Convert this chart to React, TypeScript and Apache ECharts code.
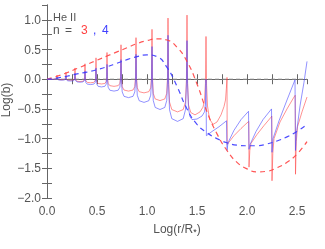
import React, { useEffect, useRef } from "react";
import * as echarts from "echarts";

const xTicks = [0, 0.5, 1.0, 1.5, 2.0, 2.5];
const yTicks = [-2.0, -1.5, -1.0, -0.5, 0.0, 0.5, 1.0];

const zeroLine: [number, number][] = [[0, 0], [2.6, 0]];

const redSolid: [number, number][] = [
  [0, 0], [0.05, 0.0], [0.08, 0.003], [0.092, 0.01], [0.097, 0.03], [0.1, 0.07],
  [0.1027, 0.048], [0.1072, 0.008], [0.118, -0.006], [0.145, -0.01], [0.172, -0.006], [0.1828, 0.008], [0.1873, 0.048], [0.19, 0.12],
  [0.1927, 0.047], [0.1972, 0.001], [0.208, -0.015], [0.235, -0.02], [0.262, -0.015], [0.2728, 0.001], [0.2773, 0.047], [0.28, 0.19],
  [0.283, 0.047], [0.288, -0.013], [0.3, -0.034], [0.33, -0.04], [0.36, -0.034], [0.372, -0.013], [0.377, 0.047], [0.38, 0.26],
  [0.3833, 0.046], [0.3888, -0.027], [0.402, -0.052], [0.435, -0.06], [0.468, -0.052], [0.4812, -0.027], [0.4867, 0.046], [0.49, 0.36],
  [0.4933, 0.045], [0.4988, -0.041], [0.512, -0.071], [0.545, -0.08], [0.578, -0.071], [0.5912, -0.041], [0.5967, 0.045], [0.6, 0.45],
  [0.6042, 0.044], [0.6112, -0.069], [0.628, -0.108], [0.67, -0.12], [0.712, -0.108], [0.7288, -0.069], [0.7358, 0.044], [0.74, 0.58],
  [0.7445, 0.04], [0.752, -0.124], [0.77, -0.182], [0.815, -0.2], [0.86, -0.182], [0.878, -0.124], [0.8855, 0.04], [0.89, 0.7],
  [0.8948, 0.04], [0.9028, -0.145], [0.922, -0.21], [0.97, -0.23], [1.018, -0.21], [1.0372, -0.145], [1.0452, 0.04], [1.05, 0.84],
  [1.0548, 0.025], [1.0628, -0.239], [1.082, -0.332], [1.13, -0.36], [1.178, -0.332], [1.1972, -0.239], [1.2052, 0.025], [1.21, 1.03],
  [1.2157, -0.02], [1.2252, -0.384], [1.248, -0.511], [1.305, -0.55], [1.362, -0.511], [1.3848, -0.384], [1.3943, -0.02], [1.4, 1.08],
  [1.4057, -0.07], [1.4152, -0.434], [1.438, -0.561], [1.48, -0.6], [1.53, -0.55], [1.56, -0.47], [1.575, -0.36], [1.5843, -0.07], [1.59, 0.72],
  [1.5957, -0.1], [1.605, -0.45], [1.625, -0.67], [1.66, -0.76], [1.7, -0.72], [1.74, -0.6], [1.77, -0.46], [1.785, -0.35], [1.794, -0.15], [1.8, 0.03],
  [1.802, -1.1], [1.81, -1.08], [1.87, -0.95], [1.94, -0.83], [2.01, -0.72], [2.018, -0.71],
  [2.02, -1.48], [2.028, -1.2], [2.04, -1.08], [2.1, -0.93], [2.17, -0.78], [2.24, -0.64], [2.248, -0.62],
  [2.25, -1.71], [2.258, -1.25], [2.27, -1.0], [2.33, -0.72], [2.4, -0.5], [2.47, -0.3], [2.482, -0.27],
  [2.485, -1.6], [2.493, -1.05], [2.505, -0.8], [2.55, -0.55], [2.6, -0.3],
];

const blueSolid: [number, number][] = [
  [0, 0], [0.05, -0.003], [0.08, 0.0], [0.092, 0.003], [0.097, 0.01], [0.1, 0.03],
  [0.1027, 0.024], [0.1072, -0.003], [0.118, -0.012], [0.145, -0.015], [0.172, -0.012], [0.1828, -0.003], [0.1873, 0.024], [0.19, 0.06],
  [0.1927, 0.018], [0.1972, -0.015], [0.208, -0.027], [0.235, -0.03], [0.262, -0.027], [0.2728, -0.015], [0.2773, 0.018], [0.28, 0.1],
  [0.283, 0.017], [0.288, -0.029], [0.3, -0.045], [0.33, -0.05], [0.36, -0.045], [0.372, -0.029], [0.377, 0.017], [0.38, 0.14],
  [0.3833, 0.016], [0.3888, -0.057], [0.402, -0.082], [0.435, -0.09], [0.468, -0.082], [0.4812, -0.057], [0.4867, 0.016], [0.49, 0.19],
  [0.4933, 0.014], [0.4988, -0.085], [0.512, -0.12], [0.545, -0.13], [0.578, -0.12], [0.5912, -0.085], [0.5967, 0.014], [0.6, 0.25],
  [0.6042, 0.012], [0.6112, -0.134], [0.628, -0.185], [0.67, -0.2], [0.712, -0.185], [0.7288, -0.134], [0.7358, 0.012], [0.74, 0.33],
  [0.7445, -0.002], [0.752, -0.213], [0.77, -0.288], [0.815, -0.31], [0.86, -0.288], [0.878, -0.213], [0.8855, -0.002], [0.89, 0.42],
  [0.8948, -0.005], [0.9028, -0.269], [0.922, -0.362], [0.97, -0.39], [1.018, -0.362], [1.0372, -0.269], [1.0452, -0.005], [1.05, 0.55],
  [1.0548, -0.03], [1.0628, -0.359], [1.082, -0.475], [1.13, -0.51], [1.178, -0.475], [1.1972, -0.359], [1.2052, -0.03], [1.21, 0.74],
  [1.2157, -0.084], [1.2252, -0.514], [1.248, -0.664], [1.305, -0.71], [1.362, -0.664], [1.3848, -0.514], [1.3943, -0.084], [1.4, 0.65],
  [1.4057, -0.08], [1.4152, -0.5], [1.43, -0.63], [1.45, -0.68], [1.5, -0.67], [1.55, -0.62], [1.575, -0.55], [1.585, -0.4], [1.59, 0.0],
  [1.594, -0.95], [1.65, -0.88], [1.72, -0.8], [1.795, -0.7],
  [1.8, -1.2], [1.81, -1.07], [1.87, -0.86], [1.94, -0.68], [2.015, -0.54],
  [2.02, -1.18], [2.03, -1.1], [2.09, -0.88], [2.16, -0.68], [2.245, -0.5],
  [2.25, -1.23], [2.26, -1.0], [2.32, -0.7], [2.4, -0.35], [2.48, -0.01],
  [2.485, -1.2], [2.495, -0.9], [2.53, -0.45], [2.57, -0.05], [2.6, 0.3],
];

const redDashed: [number, number][] = [
  [0, 0], [0.1, 0.05], [0.2, 0.11], [0.3, 0.18], [0.4, 0.25], [0.5, 0.32], [0.6, 0.39],
  [0.7, 0.46], [0.8, 0.53], [0.9, 0.6], [1.0, 0.65], [1.1, 0.68], [1.2, 0.66], [1.3, 0.54],
  [1.4, 0.3], [1.5, -0.08], [1.6, -0.55], [1.7, -0.92], [1.8, -1.2], [1.9, -1.4], [2.0, -1.51],
  [2.1, -1.56], [2.2, -1.55], [2.3, -1.49], [2.4, -1.4], [2.5, -1.26], [2.6, -1.05],
];

const blueDashed: [number, number][] = [
  [0, 0], [0.1, 0.02], [0.2, 0.05], [0.3, 0.09], [0.4, 0.12], [0.5, 0.16], [0.6, 0.21],
  [0.7, 0.27], [0.8, 0.33], [0.9, 0.38], [1.0, 0.41], [1.1, 0.38], [1.2, 0.2], [1.3, -0.12],
  [1.4, -0.5], [1.5, -0.76], [1.6, -0.9], [1.7, -1.0], [1.8, -1.07], [1.9, -1.11], [2.0, -1.12],
  [2.1, -1.12], [2.2, -1.09], [2.3, -1.04], [2.4, -0.97], [2.5, -0.88], [2.6, -0.76],
];

const FONT = "Liberation Sans";
const GRAY = "#555";
const AXIS = "#666";

function fmt(v: number, list: number[]) {
  const hit = list.some((t) => Math.abs(t - v) < 1e-6);
  if (!hit) return "";
  const s = Math.abs(v).toFixed(1);
  return v < -1e-9 ? "\u2212" + s : s;
}

export default function App() {
  const ref = useRef<HTMLDivElement>(null);
  useEffect(() => {
    document.body.style.margin = "0";
    const chart = echarts.init(ref.current!, undefined, { renderer: "svg" });
    const baseAxis = {
      type: "value" as const,
      axisLine: { show: true, lineStyle: { color: AXIS, width: 1 } },
      axisTick: { show: true, inside: true, length: 5, lineStyle: { color: AXIS } },
      splitLine: { show: false },
    };
    chart.setOption({
      animation: false,
      grid: { left: 47, right: 18, top: 5, bottom: 51 },
      xAxis: [
        {
          ...baseAxis,
          min: 0,
          max: 2.6,
          interval: 0.25,
          position: "bottom",
          axisLabel: {
            show: true,
            color: GRAY,
            fontFamily: FONT,
            fontSize: 12,
            margin: 7,
            showMaxLabel: false,
            formatter: (v: number) => fmt(v, xTicks),
          },
        },
        {
          ...baseAxis,
          min: 0,
          max: 2.6,
          interval: 0.25,
          position: "top",
          axisLabel: { show: false },
        },
      ],
      yAxis: [
        {
          ...baseAxis,
          min: -2,
          max: 1.25,
          interval: 0.25,
          position: "left",
          axisLabel: {
            show: true,
            color: GRAY,
            fontFamily: FONT,
            fontSize: 12,
            margin: 6,
            showMaxLabel: false,
            formatter: (v: number) => fmt(v, yTicks),
          },
        },
        {
          ...baseAxis,
          min: -2,
          max: 1.25,
          interval: 0.25,
          position: "right",
          axisLabel: { show: false },
        },
      ],
      graphic: [
        { type: "text", left: 53, top: 11, style: { text: "He II", fill: GRAY, font: `11px "${FONT}"` } },
        { type: "text", left: 53, top: 24, style: { text: "n", fill: GRAY, font: `12px "${FONT}"` } },
        { type: "text", left: 65, top: 24, style: { text: "=", fill: GRAY, font: `12px "${FONT}"` } },
        { type: "text", left: 81, top: 24, style: { text: "3", fill: "#ff4040", font: `12px "${FONT}"` } },
        { type: "text", left: 93, top: 24, style: { text: ",", fill: "#4040ff", font: `12px "${FONT}"` } },
        { type: "text", left: 102, top: 24, style: { text: "4", fill: "#4040ff", font: `12px "${FONT}"` } },
        {
          type: "text",
          x: 6,
          y: 100,
          rotation: Math.PI / 2,
          style: { text: "Log(b)", fill: GRAY, font: `12px "${FONT}"`, align: "center", verticalAlign: "middle" },
        },
        {
          type: "text",
          x: 177,
          y: 229,
          style: {
            text: "Log(r/R{s|*}{p|)}",
            fill: GRAY,
            font: `12px "${FONT}"`,
            align: "center",
            verticalAlign: "middle",
            rich: {
              s: { fontSize: 9, fontFamily: FONT, fill: "#333", lineHeight: 14, verticalAlign: "bottom", padding: [6, 0, 0, 0] },
              p: { fontSize: 12, fontFamily: FONT, fill: GRAY },
            },
          },
        },
      ],
      series: [
        {
          type: "line",
          data: zeroLine,
          symbol: "none",
          silent: true,
          lineStyle: { color: "#888", width: 1, type: [4, 3] },
        },
        {
          type: "line",
          data: redSolid,
          symbol: "none",
          lineStyle: { color: "#ff4a4a", width: 1, opacity: 0.6 },
        },
        {
          type: "line",
          data: blueSolid,
          symbol: "none",
          lineStyle: { color: "#4a4aff", width: 1, opacity: 0.6 },
        },
        {
          type: "line",
          data: redDashed,
          symbol: "none",
          smooth: true,
          lineStyle: { color: "#ff4444", width: 1.2, type: [5, 4], opacity: 0.9 },
        },
        {
          type: "line",
          data: blueDashed,
          symbol: "none",
          smooth: true,
          lineStyle: { color: "#3838ff", width: 1.2, type: [5, 4], opacity: 0.9 },
        },
      ],
    });
    return () => chart.dispose();
  }, []);
  return <div ref={ref} style={{ position: "fixed", left: 0, top: 0, width: 325, height: 249 }} />;
}
